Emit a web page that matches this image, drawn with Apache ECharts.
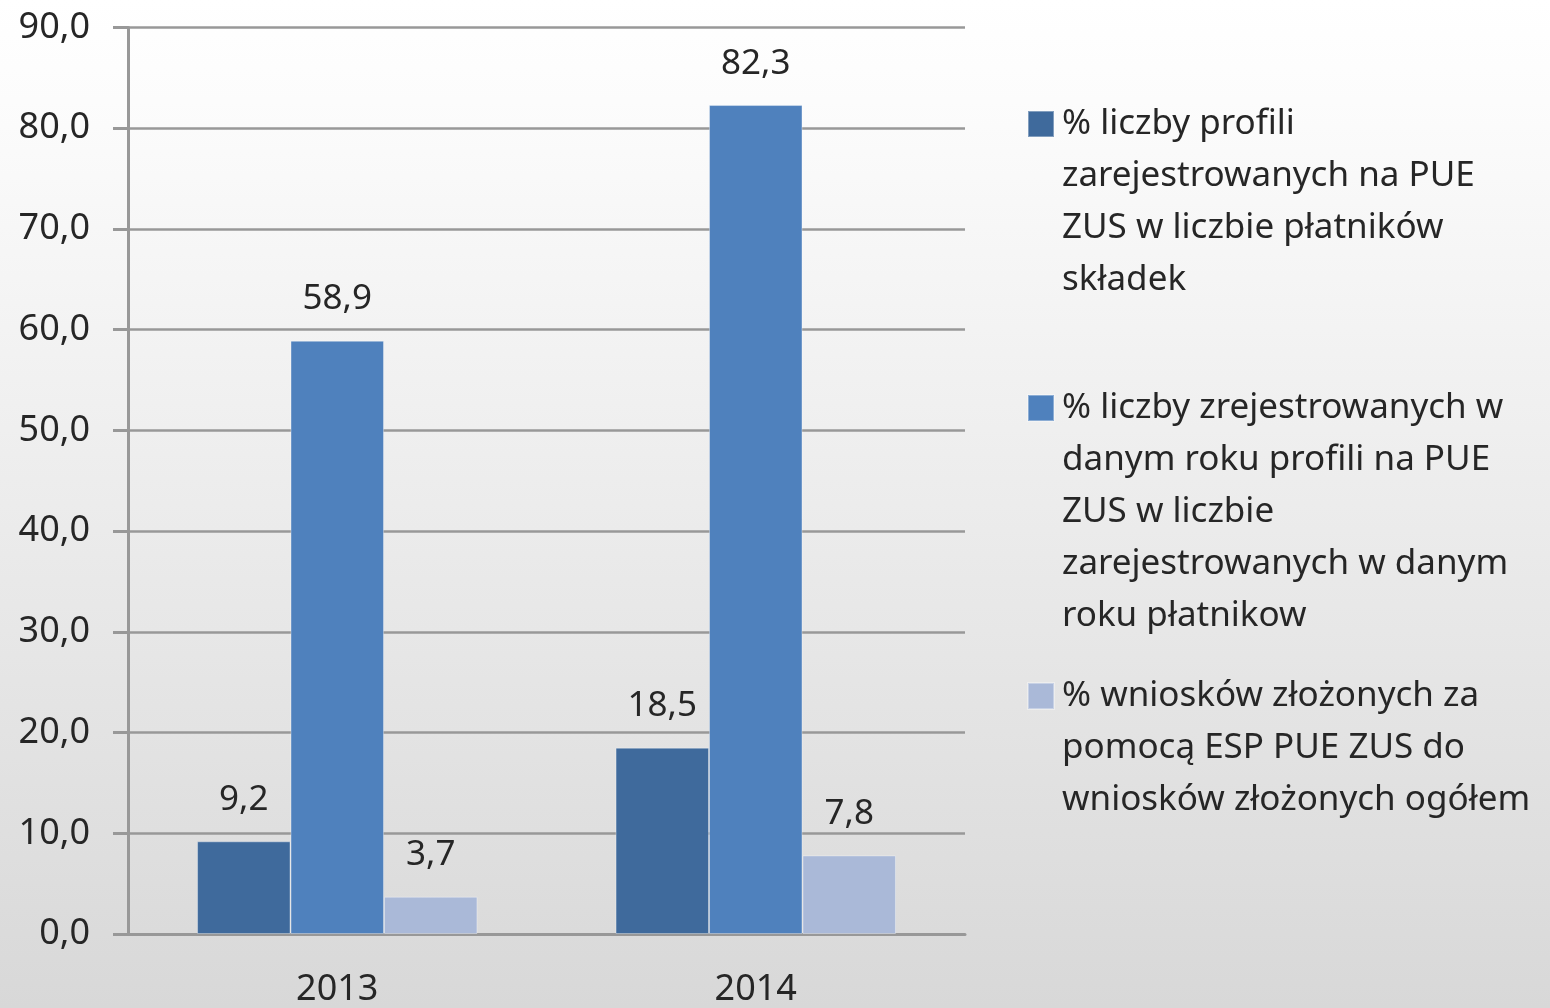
<!DOCTYPE html>
<html>
<head>
<meta charset="utf-8">
<script src="https://cdn.jsdelivr.net/npm/echarts@6/dist/echarts.min.js"></script>
<style>
  html, body { margin: 0; padding: 0; }
  #chart { width: 1550px; height: 1008px; }
</style>
</head>
<body>
<div id="chart"></div>
<script>
  // dane
  var years = ['2013', '2014'];
  var seriesNames = [
    '% liczby profili\nzarejestrowanych na PUE\nZUS w liczbie płatników\nskładek',
    '% liczby zrejestrowanych w\ndanym roku profili na PUE\nZUS w liczbie\nzarejestrowanych w danym\nroku płatnikow',
    '% wniosków złożonych za\npomocą ESP PUE ZUS do\nwniosków złożonych ogółem'
  ];
  var profile = [9.2, 18.5];
  var registeredYear = [58.9, 82.3];
  var applications = [3.7, 7.8];
  var colors = ['#3F6A9C', '#4F81BD', '#AAB9D8'];

  var FONT = '"Noto Sans", sans-serif';
  var LH = 52;

  // legenda - ikonka przy pierwszej linii tekstu (pusty wiersz na gorze przesuwa tekst w dol)
  function legendFor(i, iconTop) {
    var lines = seriesNames[i].split('\n');
    var n = lines.length;
    return {
      data: [seriesNames[i]],
      left: 1027,
      top: iconTop - ((2 * n - 1) * LH / 2 - 13),
      padding: 0,
      itemWidth: 26,
      itemHeight: 26,
      itemGap: 0,
      icon: 'rect',
      selectedMode: false,
      formatter: function () {
        return '{sp| }\n' + lines.map(function (l) { return '{t|' + l + '}'; }).join('\n');
      },
      textStyle: {
        fontFamily: FONT, fontSize: 35, color: '#262626',
        rich: {
          sp: { height: (n - 1) * LH, lineHeight: (n - 1) * LH, fontSize: 10 },
          t: { fontFamily: FONT, fontSize: 35, color: '#262626', lineHeight: LH, height: LH, padding: [0, 0, 0, 3] }
        }
      }
    };
  }

  function barSeries(i, values) {
    return {
      name: seriesNames[i],
      type: 'bar',
      data: values,
      barGap: '0%',
      barCategoryGap: '33%',
      itemStyle: { color: colors[i], borderColor: 'rgba(255,255,255,0.35)', borderWidth: 1 },
      label: {
        show: true, position: 'top', distance: 24,
        fontFamily: FONT, fontSize: 35, color: '#262626',
        formatter: function (p) { return p.value.toFixed(1).replace('.', ','); }
      }
    };
  }

  var myChart = echarts.init(document.getElementById('chart'));
  myChart.setOption({
    backgroundColor: new echarts.graphic.LinearGradient(0, 0, 0, 1, [
      { offset: 0, color: '#FFFFFF' },
      { offset: 0.1, color: '#FCFCFC' },
      { offset: 1, color: '#D8D8D8' }
    ]),
    animation: false,
    grid: { left: 128, right: 585, top: 27.5, bottom: 74 },
    legend: [legendFor(0, 111), legendFor(1, 395), legendFor(2, 683)],
    xAxis: {
      type: 'category',
      data: years,
      axisLine: { lineStyle: { color: '#989898', width: 3 } },
      axisTick: { show: false },
      axisLabel: { fontFamily: FONT, fontSize: 36, color: '#262626', margin: 38 }
    },
    yAxis: {
      type: 'value',
      min: 0, max: 90, interval: 10,
      axisLine: { show: true, lineStyle: { color: '#989898', width: 3 } },
      axisTick: { show: true, length: 15, lineStyle: { color: '#989898', width: 3 } },
      splitLine: { lineStyle: { color: '#989898', width: 2.5 } },
      axisLabel: {
        fontFamily: FONT, fontSize: 36, color: '#262626', margin: 38,
        formatter: function (v) { return v.toFixed(1).replace('.', ','); }
      }
    },
    series: [
      barSeries(0, profile),
      barSeries(1, registeredYear),
      barSeries(2, applications)
    ]
  });
</script>
</body>
</html>
